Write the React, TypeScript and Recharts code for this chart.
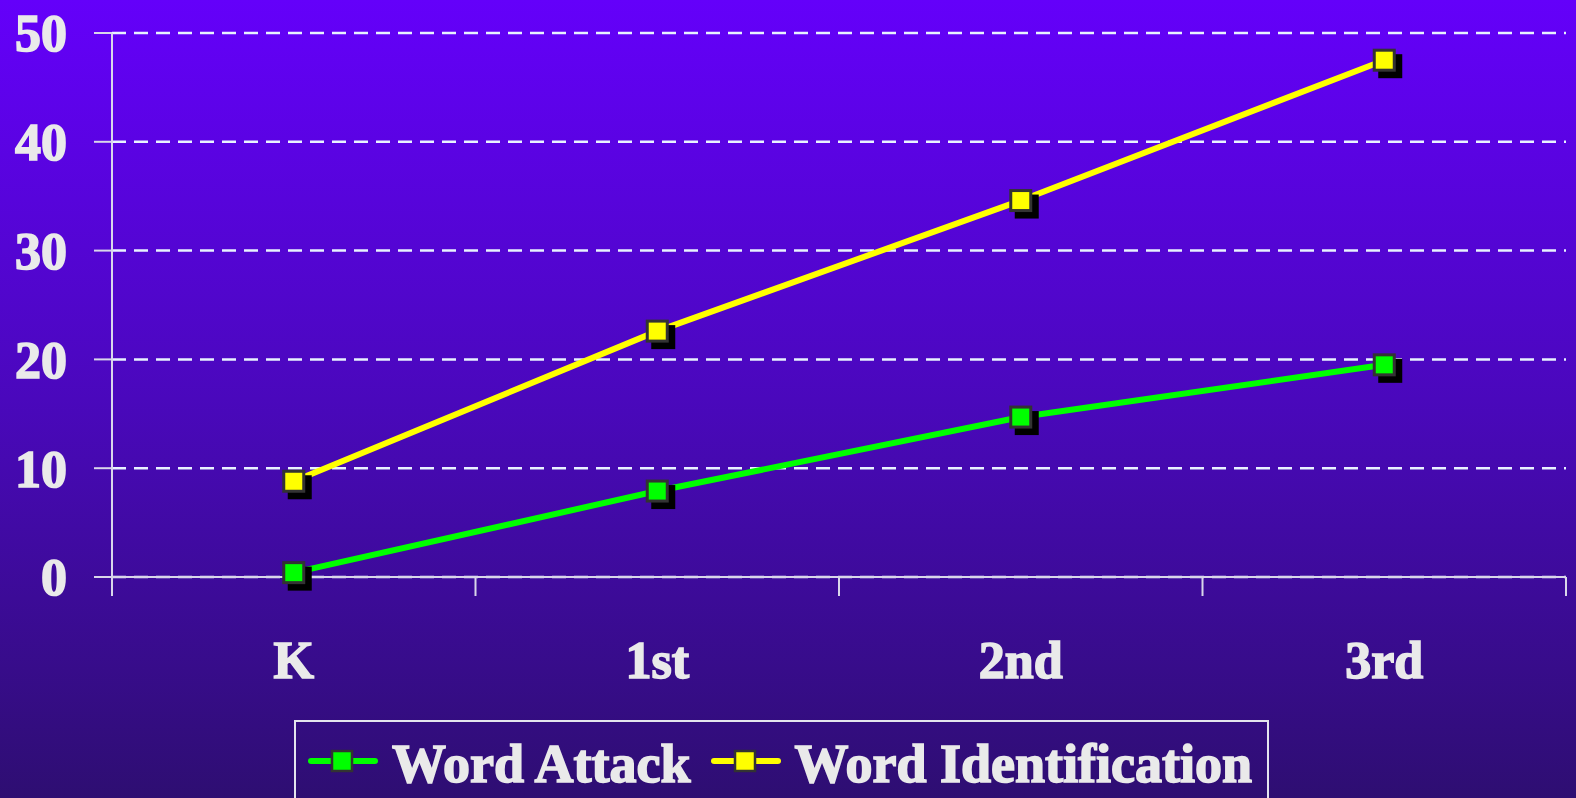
import React from "react";
import {
  LineChart,
  Line,
  XAxis,
  YAxis,
  CartesianGrid,
  Legend,
} from "recharts";

const grades = ["K", "1st", "2nd", "3rd"];
const wordAttack = [0.4, 7.9, 14.7, 19.5];
const wordIdentification = [8.8, 22.6, 34.6, 47.5];
const yTicks = [0, 10, 20, 30, 40, 50];

const data = grades.map((g, i) => ({
  grade: g,
  wa: wordAttack[i],
  wi: wordIdentification[i],
}));

const FONT = '"Liberation Serif", "Times New Roman", serif';
const TEXT = "#EAEAEA";
const AXIS = "#D9D6EA";
const X_TICK_MARGIN = 64;
const X_TICK_LEN = 19;

const SquareDot = (color: string) => (props: any) => {
  const { cx, cy, index } = props;
  if (cx == null || cy == null) return <g key={index} />;
  const s = 20;
  return (
    <g key={`d-${index}`}>
      <rect x={cx - s / 2 + 4} y={cy - s / 2 + 4} width={s + 4} height={s + 4} fill="#000" />
      <rect
        x={cx - s / 2}
        y={cy - s / 2}
        width={s}
        height={s}
        fill={color}
        stroke="#333333"
        strokeWidth={3}
      />
    </g>
  );
};

const tickStyle = {
  fill: TEXT,
  stroke: TEXT,
  strokeWidth: 1.6,
  fontFamily: FONT,
  fontWeight: 700,
  fontSize: 52,
};

const CategoryTick = (props: any) => {
  const { x, y, payload, index, visibleTicksCount, width } = props;
  const half =
    payload && typeof payload.offset === "number" && payload.offset > 0
      ? payload.offset
      : width / (2 * (visibleTicksCount || 1));
  const axisY = y - X_TICK_MARGIN;
  const isLast = index === (visibleTicksCount || 1) - 1;
  return (
    <g>
      <line x1={x - half} x2={x - half} y1={axisY} y2={axisY + X_TICK_LEN} stroke={AXIS} strokeWidth={2} />
      {isLast && (
        <line x1={x + half} x2={x + half} y1={axisY} y2={axisY + X_TICK_LEN} stroke={AXIS} strokeWidth={2} />
      )}
      <text x={x} y={y} dy="0.71em" textAnchor="middle" {...tickStyle}>
        {payload.value}
      </text>
    </g>
  );
};

const LegendIcon = ({ color }: { color: string }) => (
  <svg width={70} height={26} style={{ display: "block" }}>
    <line x1={3} y1={13} x2={67} y2={13} stroke={color} strokeWidth={6} strokeLinecap="round" />
    <rect x={24} y={3} width={20} height={20} fill={color} stroke="#333333" strokeWidth={2.5} />
  </svg>
);

const LegendBox = (props: any) => {
  const payload = props.payload || [];
  return (
    <div
      style={{
        boxSizing: "border-box",
        width: 975,
        height: 110,
        border: "2px solid #E4E4EE",
        display: "flex",
        alignItems: "flex-start",
        paddingLeft: 12,
        paddingTop: 15,
      }}
    >
      {payload.map((p: any, i: number) => (
        <div
          key={i}
          style={{
            display: "flex",
            alignItems: "flex-start",
            marginLeft: i === 0 ? 0 : 20,
          }}
        >
          <div style={{ marginTop: 11 }}>
            <LegendIcon color={p.color} />
          </div>
          <span
            style={{
              marginLeft: 14,
              fontFamily: FONT,
              fontWeight: 700,
              fontSize: 54,
              lineHeight: "54px",
              color: TEXT,
              whiteSpace: "nowrap",
              WebkitTextStroke: `1.6px ${TEXT}`,
            }}
          >
            {p.value}
          </span>
        </div>
      ))}
    </div>
  );
};

export default function App() {
  return (
    <div
      style={{
        position: "fixed",
        left: 0,
        top: 0,
        width: 1576,
        height: 798,
        overflow: "hidden",
        background: "linear-gradient(to bottom, #6400FA 0%, #4A08BC 50%, #2E0E72 100%)",
      }}
    >
      <LineChart
        width={1576}
        height={798}
        data={data}
        margin={{ top: 33, right: 10, bottom: 220, left: 0 }}
      >
        <CartesianGrid
          horizontal={true}
          vertical={false}
          stroke="#E8F2FF"
          strokeWidth={2.5}
          strokeDasharray="14 8"
        />
        <XAxis
          dataKey="grade"
          scale="band"
          height={1}
          axisLine={{ stroke: AXIS, strokeWidth: 2 }}
          tickLine={false}
          tickSize={0}
          tickMargin={X_TICK_MARGIN}
          tick={<CategoryTick />}
          interval={0}
        />
        <YAxis
          width={112}
          domain={[0, 50]}
          ticks={yTicks}
          interval={0}
          axisLine={{ stroke: AXIS, strokeWidth: 2 }}
          tickLine={{ stroke: AXIS, strokeWidth: 2 }}
          tickSize={18}
          tickMargin={27}
          tick={tickStyle}
        />
        <Legend
          layout="horizontal"
          verticalAlign="middle"
          align="center"
          wrapperStyle={{ top: 720, left: 294, width: 975, height: 110 }}
          content={<LegendBox />}
        />
        <Line
          type="linear"
          dataKey="wa"
          name="Word Attack"
          stroke="#00FF00"
          strokeWidth={6}
          dot={SquareDot("#00FF00")}
          activeDot={false}
          isAnimationActive={false}
        />
        <Line
          type="linear"
          dataKey="wi"
          name="Word Identification"
          stroke="#FFFF00"
          strokeWidth={6}
          dot={SquareDot("#FFFF00")}
          activeDot={false}
          isAnimationActive={false}
        />
      </LineChart>
    </div>
  );
}
